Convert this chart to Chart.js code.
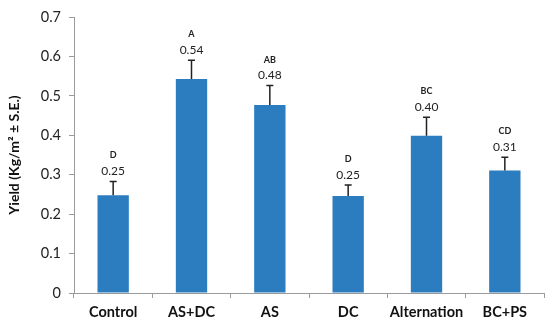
<!DOCTYPE html>
<html>
<head>
<meta charset="utf-8">
<script src="https://cdn.jsdelivr.net/npm/chart.js@4"></script>
<style>
html,body{margin:0;padding:0;background:#fff;}
#wrap{width:550px;height:329px;position:relative;}
</style>
</head>
<body>
<div id="wrap"><canvas id="c" width="550" height="329"></canvas></div>
<script>
const categories = ["Control", "AS+DC", "AS", "DC", "Alternation", "BC+PS"];
const means = [0.248, 0.543, 0.477, 0.246, 0.399, 0.311];
const stdErrors = [0.035, 0.047, 0.049, 0.028, 0.047, 0.033];
const letters = ["D", "A", "AB", "D", "BC", "CD"];
const yTicks = [0, 0.1, 0.2, 0.3, 0.4, 0.5, 0.6, 0.7];

const FONT = "Lato, 'Liberation Sans', sans-serif";

const errPlugin = {
  id: 'errPlugin',
  afterDatasetsDraw(chart) {
    const ctx = chart.ctx;
    const meta = chart.getDatasetMeta(0);
    const y = chart.scales.y;
    ctx.save();
    meta.data.forEach((bar, i) => {
      const x = bar.x;
      const yTop = y.getPixelForValue(means[i] + stdErrors[i]);
      const yMean = y.getPixelForValue(means[i]);
      ctx.strokeStyle = '#222';
      ctx.lineWidth = 1.5;
      ctx.beginPath();
      ctx.moveTo(x, yMean);
      ctx.lineTo(x, yTop);
      ctx.moveTo(x - 3.5, yTop);
      ctx.lineTo(x + 3.5, yTop);
      ctx.stroke();
      ctx.fillStyle = '#222';
      ctx.textAlign = 'center';
      ctx.textBaseline = 'middle';
      ctx.font = "12px " + FONT;
      ctx.fillText(means[i].toFixed(2), x, yTop - 10);
      ctx.font = "bold 9px " + FONT;
      ctx.fillText(letters[i], x, yTop - 26);
    });
    ctx.restore();
  }
};

new Chart(document.getElementById('c'), {
  type: 'bar',
  data: {
    labels: categories,
    datasets: [{
      data: means,
      backgroundColor: '#2B7DC0',
      borderWidth: 0,
      categoryPercentage: 1,
      barPercentage: 0.4
    }]
  },
  options: {
    responsive: false,
    animation: false,
    devicePixelRatio: 1,
    layout: { padding: { top: 17, right: 6, bottom: 0, left: 0 } },
    plugins: { legend: { display: false }, tooltip: { enabled: false } },
    scales: {
      x: {
        afterFit(s) { s.height = 36; },
        grid: { display: true, drawOnChartArea: false, drawTicks: true, tickLength: 5, color: '#9a9a9a', offset: true },
        border: { display: true, color: '#9a9a9a', width: 1 },
        ticks: { color: '#111', font: { family: FONT, size: 14.5, weight: 'bold' }, padding: 6,
          maxRotation: 0, minRotation: 0, autoSkip: false }
      },
      y: {
        min: 0, max: 0.7,
        afterFit(s) { s.width = 74; },
        afterBuildTicks(s) { s.ticks = yTicks.map(v => ({ value: v })); },
        grid: { display: true, drawOnChartArea: false, drawTicks: true, tickLength: 5, color: '#9a9a9a' },
        border: { display: true, color: '#9a9a9a', width: 1 },
        ticks: { color: '#222', font: { family: FONT, size: 14.5 }, padding: 8,
          callback: v => String(v) },
        title: { display: true, text: 'Yield (Kg/m² ± S.E.)', color: '#111',
          font: { family: FONT, size: 14, weight: 'bold' }, padding: { top: 6, bottom: 4 } }
      }
    }
  },
  plugins: [errPlugin]
});
</script>
</body>
</html>
